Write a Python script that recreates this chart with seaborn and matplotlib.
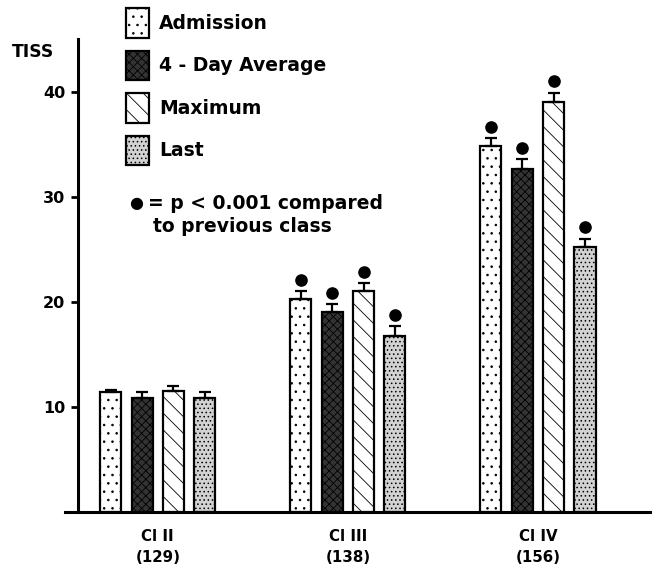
import matplotlib
matplotlib.use("Agg")
import matplotlib.pyplot as plt
from matplotlib.patches import Patch
import numpy as np
import pandas as pd
import seaborn as sns

classes = ["Cl II\n(129)", "Cl III\n(138)", "Cl IV\n(156)"]
measures = ["Admission", "4 - Day Average", "Maximum", "Last"]

admission = [11.4, 20.3, 34.9]
four_day = [10.9, 19.0, 32.7]
maximum = [11.5, 21.0, 39.0]
last = [10.9, 16.8, 25.2]

admission_err = [0.2, 0.7, 0.7]
four_day_err = [0.5, 0.8, 0.9]
maximum_err = [0.5, 0.8, 0.9]
last_err = [0.5, 0.9, 0.8]

# p < 0.001 vs previous class
significant = [False, True, True]

values = [admission, four_day, maximum, last]
errors = [admission_err, four_day_err, maximum_err, last_err]

rows = []
for m, vals in zip(measures, values):
    for c, v in zip(classes, vals):
        rows.append({"cls": c, "measure": m, "tiss": v})
df = pd.DataFrame(rows)

sns.set_style("ticks")
plt.rcParams["font.family"] = ["DejaVu Sans"]
plt.rcParams["hatch.linewidth"] = 0.6
for k in ["text.color", "xtick.color", "ytick.color", "axes.edgecolor"]:
    plt.rcParams[k] = "black"

styles = {
    "Admission": dict(facecolor="white", hatch=".."),
    "4 - Day Average": dict(facecolor="#333333", hatch="xxxx"),
    "Maximum": dict(facecolor="white", hatch="\\\\"),
    "Last": dict(facecolor="#d2d2d2", hatch="...."),
}

fig = plt.figure(figsize=(6.52, 5.73), dpi=100)
ax = fig.add_axes([0.1196, 0.1065, 0.8804, 0.8246])

sns.barplot(data=df, x="cls", y="tiss", hue="measure", order=classes,
            hue_order=measures, width=0.66, gap=0.33, errorbar=None,
            legend=False, ax=ax)

sig = np.array(significant)
for cont, m, err in zip(ax.containers, measures, errors):
    xs, hs = [], []
    for bar in cont:
        bar.set_facecolor(styles[m]["facecolor"])
        bar.set_hatch(styles[m]["hatch"])
        bar.set_edgecolor("black")
        bar.set_linewidth(1.6)
        xs.append(bar.get_x() + bar.get_width() / 2)
        hs.append(bar.get_height())
    xs, hs, err = np.array(xs), np.array(hs), np.array(err)
    ax.errorbar(xs, hs, yerr=[np.zeros_like(err), err], fmt="none",
                ecolor="black", elinewidth=1.6, capsize=4.5, capthick=1.6)
    ax.scatter(xs[sig], (hs + err + 1.1)[sig], s=65, color="black",
               zorder=5, clip_on=False)

ax.set_xlim(-0.42, 2.6)
ax.set_ylim(0, 45)
ax.set_yticks([10, 20, 30, 40])
ax.set_xlabel("")
ax.set_ylabel("")
sns.despine(ax=ax)
ax.spines["left"].set_linewidth(2.2)
ax.spines["bottom"].set_linewidth(2.2)
ax.spines["bottom"].set_bounds(-0.49, 2.6)
ax.tick_params(axis="y", length=5, width=2, labelsize=11.5, pad=4)
ax.tick_params(axis="x", length=0, labelsize=10.8, pad=12)
for t in ax.get_yticklabels():
    t.set_fontweight("bold")
for t in ax.get_xticklabels():
    t.set_fontweight("bold")
    t.set_linespacing(1.5)

fig.text(12 / 652, 1 - 52 / 573, "TISS", fontsize=12.3, fontweight="bold",
         va="center", ha="left")

handles = [Patch(facecolor=styles[m]["facecolor"], hatch=styles[m]["hatch"],
                 edgecolor="black", linewidth=1.6, label=m) for m in measures]
fig.legend(handles=handles, loc="upper left",
           bbox_to_anchor=(126 / 652, 1 - 8 / 573), frameon=False,
           prop={"size": 13.5, "weight": "bold"}, handlelength=1.2,
           handleheight=2.08, labelspacing=0.67, handletextpad=0.58,
           borderpad=0, borderaxespad=0)

fig.text(129 / 652, 1 - 204 / 573, "\u25cf", fontsize=11.5,
         va="center", ha="left")
fig.text(148 / 652, 1 - 204 / 573, "= p < 0.001 compared",
         fontsize=13.5, fontweight="bold", va="center", ha="left")
fig.text(153 / 652, 1 - 226 / 573, "to previous class",
         fontsize=13.5, fontweight="bold", va="center", ha="left")

fig.savefig("out.png", dpi=100)
